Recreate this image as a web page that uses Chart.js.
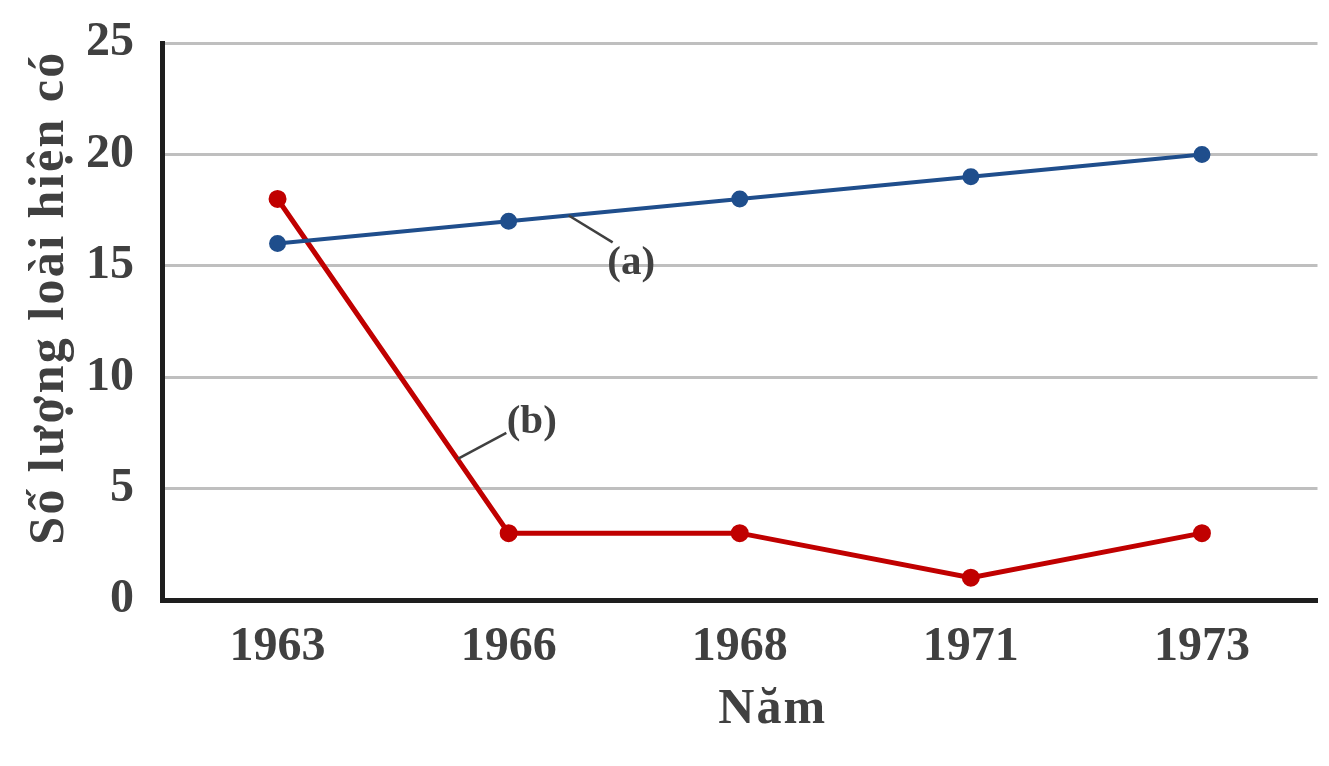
<!DOCTYPE html>
<html>
<head>
<meta charset="utf-8">
<script src="https://cdn.jsdelivr.net/npm/chart.js@4"></script>
<style>
html,body{margin:0;padding:0;background:#fff;}
#wrap{width:1329px;height:766px;}
</style>
</head>
<body>
<div id="wrap"><canvas id="c" width="1329" height="766"></canvas></div>
<script>
const years = ['1963', '1966', '1968', '1971', '1973'];
const seriesA = [16, 17, 18, 19, 20];
const seriesB = [18, 3, 3, 1, 3];
const yTicks = [0, 5, 10, 15, 20, 25];
const xTitle = 'Năm';
const yTitle = 'Số lượng loài hiện có';
// annotation labels: [label, lineStartIndex, lineStartValue, lineEndIndex, lineEndValue, textIndex, textValue]
const labelA = ['(a)', 1.26, 17.26, 1.45, 16.05, 1.53, 15.1];
const labelB = ['(b)', 0.78, 6.33, 0.99, 7.5, 1.10, 7.95];

const FONT = "'Liberation Serif', 'DejaVu Serif', serif";
const TXT = '#404040';

const annotPlugin = {
  id: 'annot',
  afterDatasetsDraw(chart) {
    const {ctx, scales: {x, y}, chartArea} = chart;
    [labelA, labelB].forEach(l => {
      ctx.save();
      ctx.strokeStyle = '#404040';
      ctx.lineWidth = 2.5;
      ctx.beginPath();
      ctx.moveTo(x.getPixelForValue(l[1]), y.getPixelForValue(l[2]));
      ctx.lineTo(x.getPixelForValue(l[3]), y.getPixelForValue(l[4]));
      ctx.stroke();
      ctx.fillStyle = TXT;
      ctx.font = "bold 41px " + FONT;
      ctx.textAlign = 'center';
      ctx.textBaseline = 'middle';
      ctx.fillText(l[0], x.getPixelForValue(l[5]), y.getPixelForValue(l[6]));
      ctx.restore();
    });
    // axis titles
    ctx.save();
    ctx.fillStyle = TXT;
    ctx.font = "bold 50px " + FONT;
    if ('letterSpacing' in ctx) ctx.letterSpacing = '2px';
    ctx.textAlign = 'center';
    ctx.textBaseline = 'alphabetic';
    ctx.fillText(xTitle, (chartArea.left + chartArea.right) / 2 + 33, chartArea.bottom + 123);
    ctx.translate(chartArea.left - 99, (chartArea.top + chartArea.bottom) / 2 - 24);
    ctx.rotate(-Math.PI / 2);
    if ('letterSpacing' in ctx) ctx.letterSpacing = '2.4px';
    ctx.fillText(yTitle, 0, 0);
    ctx.restore();
  }
};

new Chart(document.getElementById('c'), {
  type: 'line',
  data: {
    labels: years,
    datasets: [
      {label: '(a)', data: seriesA, borderColor: '#1F4E8C', backgroundColor: '#1F4E8C',
       borderWidth: 4, pointRadius: 6.5, pointHoverRadius: 6.5, tension: 0},
      {label: '(b)', data: seriesB, borderColor: '#C00000', backgroundColor: '#C00000',
       borderWidth: 5, pointRadius: 6.5, pointHoverRadius: 6.5, tension: 0}
    ]
  },
  options: {
    responsive: false,
    animation: false,
    devicePixelRatio: 1,
    layout: {padding: {left: 0, top: 43, right: -6, bottom: 0}},
    plugins: {legend: {display: false}, tooltip: {enabled: false}},
    scales: {
      x: {
        type: 'category',
        offset: true,
        grid: {display: false},
        border: {display: true, color: '#1e1e1e', width: 5},
        ticks: {color: TXT, padding: 11, font: {family: FONT, size: 48, weight: 'bold'}},
        title: {display: false, text: xTitle},
        afterFit(s) { s.height = 166; s.paddingRight = 0; s.paddingLeft = 0; }
      },
      y: {
        min: 0, max: 25,
        afterBuildTicks(s) { s.ticks = yTicks.map(v => ({value: v})); },
        grid: {color: '#bfbfbf', lineWidth: 3, drawTicks: false},
        border: {display: true, color: '#1e1e1e', width: 5},
        ticks: {color: TXT, padding: 28, font: {family: FONT, size: 48, weight: 'bold', lineHeight: 0.5}},
        title: {display: false, text: yTitle},
        afterFit(s) { s.width = 162; }
      }
    }
  },
  plugins: [annotPlugin]
});
</script>
</body>
</html>
